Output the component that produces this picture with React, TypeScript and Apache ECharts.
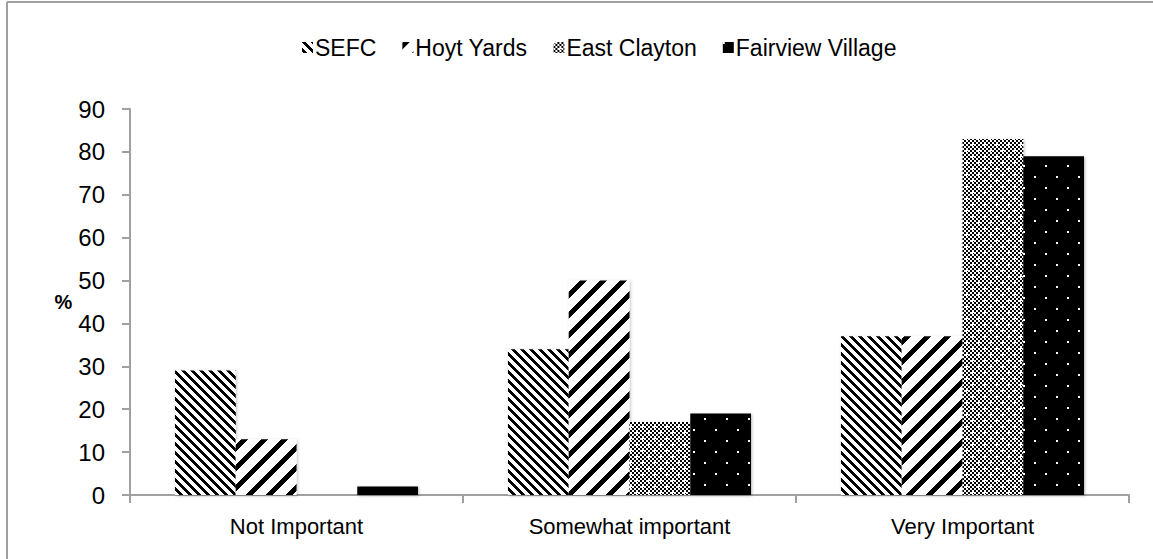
import React, { useEffect, useRef } from "react";
import * as echarts from "echarts";

const categories = ["Not Important", "Somewhat important", "Very Important"];
const seriesNames = ["SEFC", "Hoyt Yards", "East Clayton", "Fairview Village"];
const sefc = [29, 34, 37];
const hoytYards = [13, 50, 37];
const eastClayton = [0, 17, 83];
const fairviewVillage = [2, 19, 79];
const yMin = 0;
const yMax = 90;
const yInterval = 10;

const FONT = "'Liberation Sans Narrow', 'Arial Narrow', 'Liberation Sans', Arial, sans-serif";

function makePattern(w: number, h: number, isBlack: (x: number, y: number) => boolean) {
  const c = document.createElement("canvas");
  c.width = w;
  c.height = h;
  const ctx = c.getContext("2d")!;
  const img = ctx.createImageData(w, h);
  for (let y = 0; y < h; y++) {
    for (let x = 0; x < w; x++) {
      const v = isBlack(x, y) ? 0 : 255;
      const i = (y * w + x) * 4;
      img.data[i] = v;
      img.data[i + 1] = v;
      img.data[i + 2] = v;
      img.data[i + 3] = 255;
    }
  }
  ctx.putImageData(img, 0, 0);
  return { image: c, repeat: "repeat" };
}

export default function App() {
  const ref = useRef<HTMLDivElement>(null);
  useEffect(() => {
    document.body.style.margin = "0";
    const el = ref.current!;
    const chart = echarts.init(el, undefined, { renderer: "svg" });

    const pSefc = makePattern(9, 9, (x, y) => ((x - y + 90) % 9) < 4);
    const pHoyt = makePattern(20, 20, (x, y) => ((x + y) % 20) < 7);
    const pEc = makePattern(12, 12, (x, y) => {
      const d1 = Math.min(Math.abs(x), 12 - x) + Math.min(Math.abs(y), 12 - y);
      const d2 = Math.abs(x - 6) + Math.abs(y - 6);
      if (d1 <= 1 || d2 <= 1) return false;
      return (((x >> 1) + (y >> 1)) % 2) === 0;
    });
    const pFv = makePattern(22, 22, (x, y) => {
      if (x < 2 && y < 2) return false;
      if (x >= 11 && x < 13 && y >= 11 && y < 13) return false;
      return true;
    });
    const patterns = [pSefc, pHoyt, pEc, pFv];
    const data = [sefc, hoytYards, eastClayton, fairviewVillage];

    const axisColor = "#a0a0a0";

    chart.setOption({
      animation: false,
      backgroundColor: "#ffffff",
      textStyle: { fontFamily: FONT, color: "#000" },
      legend: {
        top: 31,
        left: 297,
        itemWidth: 11,
        itemHeight: 11,
        itemGap: 26,
        icon: "rect",
        textStyle: { fontFamily: FONT, fontSize: 23, color: "#000", padding: [0, 0, 0, -3] },
        data: seriesNames,
      },
      grid: { left: 130, right: 24, top: 109, bottom: 64, containLabel: false },
      xAxis: {
        type: "category",
        data: categories,
        axisLine: { show: true, lineStyle: { color: axisColor, width: 2 } },
        axisTick: { show: true, length: 8, alignWithLabel: false, lineStyle: { color: axisColor, width: 2 } },
        axisLabel: { fontFamily: FONT, fontSize: 22, color: "#000", margin: 20 },
        splitLine: { show: false },
      },
      yAxis: {
        type: "value",
        min: yMin,
        max: yMax,
        interval: yInterval,
        name: "%",
        nameLocation: "middle",
        nameRotate: 0,
        nameGap: 54,
        nameTextStyle: { fontFamily: FONT, fontSize: 20, fontWeight: "bold", color: "#000" },
        axisLine: { show: true, lineStyle: { color: axisColor, width: 2 } },
        axisTick: { show: true, length: 8, lineStyle: { color: axisColor, width: 2 } },
        axisLabel: { fontFamily: FONT, fontSize: 24, color: "#000", margin: 25 },
        splitLine: { show: false },
      },
      series: seriesNames.map((name, i) => ({
        name,
        type: "bar",
        data: data[i],
        barGap: "0%",
        barCategoryGap: "27%",
        itemStyle: {
          color: patterns[i],
          shadowColor: "rgba(0,0,0,0.25)",
          shadowBlur: 3,
          shadowOffsetX: 1,
          shadowOffsetY: 1,
        },
        emphasis: { disabled: true },
      })),
      graphic: [
        { type: "line", shape: { x1: 7, y1: 2, x2: 1153, y2: 2 }, style: { stroke: "#a0a0a0", lineWidth: 2 } },
        { type: "line", shape: { x1: 7, y1: 2, x2: 7, y2: 559 }, style: { stroke: "#a0a0a0", lineWidth: 2 } },
      ],
    });
    return () => chart.dispose();
  }, []);
  return <div ref={ref} style={{ width: 1153, height: 559 }} />;
}
